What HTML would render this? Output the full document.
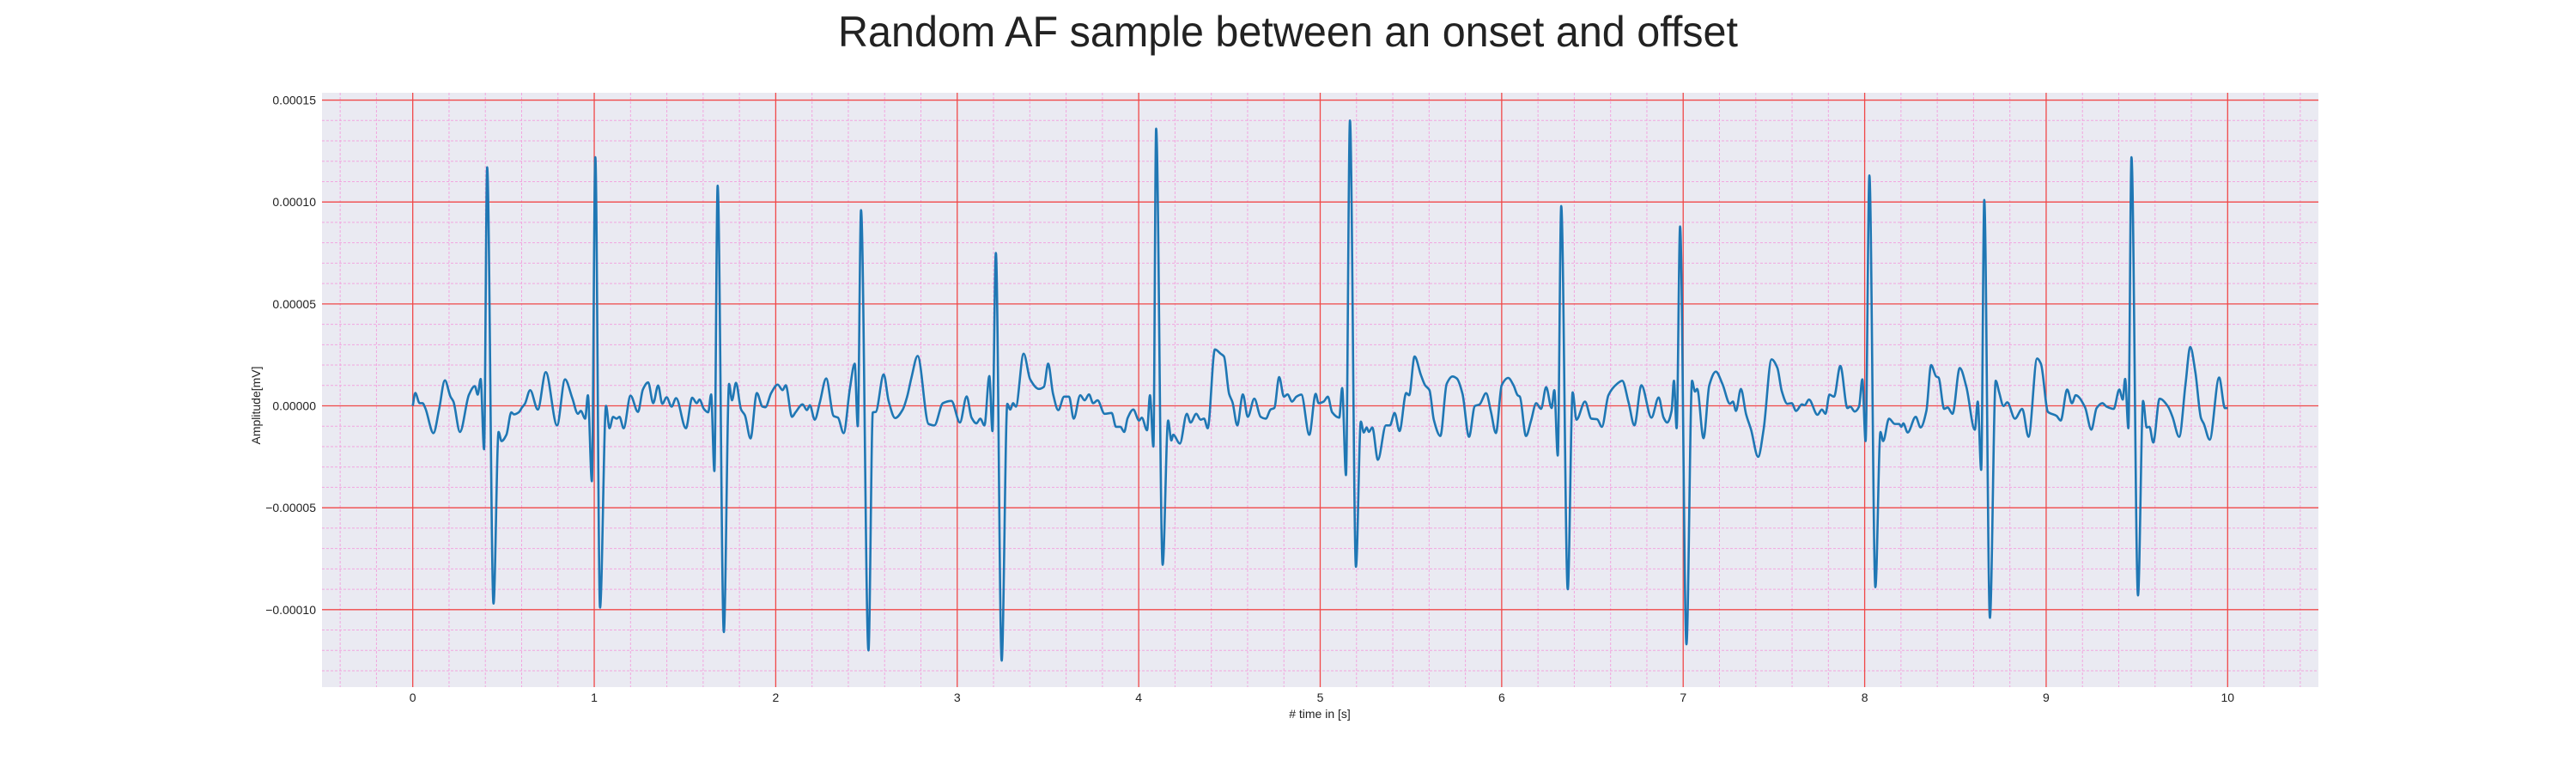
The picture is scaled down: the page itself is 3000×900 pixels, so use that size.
<!DOCTYPE html>
<html><head><meta charset="utf-8"><style>
html,body{margin:0;padding:0;background:#fff;}
svg{display:block;font-family:"Liberation Sans",Arial,sans-serif;}
</style></head><body>
<svg id="chart" width="3000" height="900" viewBox="0 0 3000 900" xmlns="http://www.w3.org/2000/svg">
<rect x="0" y="0" width="3000" height="900" fill="#ffffff"/>
<text x="1500" y="54" font-size="50" text-anchor="middle" fill="#222" textLength="1048" lengthAdjust="spacingAndGlyphs">Random AF sample between an onset and offset</text>
<rect x="375" y="108" width="2325" height="692" fill="#eaeaf2"/>
<g id="grid"></g>
<g id="ticks"></g>
<g id="series"></g>
<text x="1537" y="836" font-size="14" text-anchor="middle" fill="#222"># time in [s]</text>
<text x="0" y="0" font-size="14" text-anchor="middle" fill="#222" transform="translate(303,472) rotate(-90)">Amplitude[mV]</text>
</svg>
<script>
const xTicks = [0,1,2,3,4,5,6,7,8,9,10];
const xTickLabels = ["0","1","2","3","4","5","6","7","8","9","10"];
const yTicks = [-0.0001,-0.00005,0,0.00005,0.0001,0.00015];
const yTickLabels = ["\u22120.00010","\u22120.00005","0.00000","0.00005","0.00010","0.00015"];
// time in seconds
const times = [0,0.014,0.038,0.054,0.069,0.114,0.145,0.177,0.208,0.224,0.26,0.31,0.342,0.358,0.374,0.393,0.41,0.445,0.473,0.489,0.516,0.543,0.558,0.584,0.603,0.618,0.647,0.689,0.733,0.795,0.839,0.879,0.91,0.926,0.95,0.965,0.987,1.006,1.032,1.065,1.084,1.104,1.123,1.139,1.162,1.2,1.241,1.268,1.297,1.325,1.352,1.375,1.399,1.426,1.451,1.505,1.54,1.565,1.58,1.604,1.628,1.644,1.662,1.68,1.714,1.743,1.759,1.781,1.809,1.83,1.861,1.896,1.927,1.943,1.975,2.011,2.038,2.055,2.09,2.109,2.148,2.172,2.188,2.215,2.243,2.278,2.319,2.343,2.374,2.409,2.435,2.452,2.47,2.511,2.535,2.551,2.595,2.622,2.658,2.7,2.724,2.748,2.782,2.842,2.874,2.921,2.968,3.015,3.052,3.079,3.106,3.127,3.15,3.177,3.194,3.213,3.245,3.276,3.292,3.308,3.323,3.366,3.402,3.45,3.478,3.501,3.528,3.557,3.589,3.616,3.642,3.678,3.702,3.726,3.749,3.773,3.812,3.851,3.875,3.899,3.92,3.939,3.97,4.002,4.017,4.046,4.062,4.081,4.096,4.132,4.162,4.18,4.19,4.227,4.265,4.286,4.317,4.341,4.36,4.38,4.42,4.451,4.47,4.498,4.517,4.543,4.574,4.601,4.637,4.672,4.7,4.727,4.747,4.774,4.8,4.82,4.845,4.869,4.896,4.94,4.975,4.991,5.019,5.042,5.066,5.105,5.121,5.142,5.164,5.197,5.224,5.24,5.256,5.268,5.287,5.318,5.362,5.384,5.41,5.437,5.474,5.49,5.52,5.555,5.578,5.602,5.626,5.662,5.697,5.729,5.753,5.784,5.82,5.852,5.878,5.914,5.941,5.968,6.0,6.036,6.065,6.088,6.1,6.134,6.162,6.19,6.217,6.245,6.275,6.29,6.309,6.328,6.364,6.391,6.412,6.459,6.494,6.526,6.552,6.588,6.636,6.664,6.699,6.731,6.77,6.825,6.865,6.892,6.912,6.936,6.949,6.964,6.983,7.018,7.049,7.065,7.077,7.112,7.144,7.18,7.216,7.258,7.274,7.291,7.318,7.346,7.374,7.413,7.443,7.487,7.519,7.543,7.574,7.598,7.622,7.654,7.669,7.693,7.74,7.764,7.784,7.806,7.831,7.866,7.905,7.921,7.945,7.969,7.987,8.005,8.026,8.059,8.087,8.102,8.134,8.166,8.19,8.202,8.213,8.237,8.281,8.308,8.34,8.366,8.394,8.407,8.438,8.457,8.484,8.524,8.56,8.607,8.623,8.642,8.659,8.69,8.722,8.741,8.765,8.786,8.828,8.868,8.903,8.95,8.971,9.01,9.057,9.08,9.116,9.142,9.163,9.214,9.249,9.278,9.31,9.333,9.372,9.403,9.422,9.435,9.453,9.47,9.506,9.534,9.554,9.569,9.59,9.625,9.672,9.696,9.733,9.768,9.794,9.822,9.853,9.869,9.901,9.953,9.985,10.0];
// amplitude in units of 1e-5 mV
const amps = [0,0.63,0.13,0.13,-0.11,-1.34,-0.18,1.25,0.45,0.21,-1.28,0.55,0.97,0.55,1.32,-2.13,11.7,-9.7,-1.28,-1.73,-1.42,-0.32,-0.42,-0.32,-0.07,0.1,0.77,-0.18,1.65,-0.96,1.3,0.38,-0.39,-0.25,-0.63,0.52,-3.7,12.2,-9.9,0,-1.1,-0.54,-0.63,-0.54,-1.1,0.5,-0.3,0.8,1.15,0.13,1.0,0.1,0.42,-0.04,0.38,-1.1,0.4,0.13,0.31,-0.15,-0.32,0.56,-3.2,10.8,-11.1,1.08,0.27,1.13,-0.18,-0.46,-1.6,0.63,-0.04,-0.07,0.63,1.04,0.77,1.01,-0.54,-0.32,0.07,-0.21,0.03,-0.68,0.17,1.34,-0.5,-0.58,-1.34,0.87,2.07,-1.0,9.6,-12,-0.32,-0.3,1.54,0.24,-0.6,-0.18,0.45,1.39,2.45,-0.89,-0.96,0.13,0.24,-0.82,0.46,-0.58,-0.86,-0.63,-0.96,1.46,-1.24,7.5,-12.5,0.1,-0.18,0.13,-0.04,2.56,1.3,0.83,0.94,2.07,0.59,-0.21,0.45,0.45,-0.63,0.52,0.27,0.56,0.13,0.27,-0.39,-0.35,-1.03,-1.03,-1.28,-0.6,-0.18,-0.72,-0.58,-1.2,0.52,-2.0,13.6,-7.8,-0.72,-1.7,-1.42,-1.85,-0.39,-0.82,-0.39,-0.68,-0.63,-1.1,2.77,2.56,2.42,0.59,0.17,-0.96,0.56,-0.54,0.35,-0.54,-0.63,-0.18,-0.11,1.41,0.45,0.56,0.21,0.45,0.55,-1.42,0.59,0.13,0.21,0.45,-0.32,-0.58,0.87,-3.4,14.0,-7.9,-0.77,-1.31,-1.06,-1.28,-1.06,-2.65,-0.96,-0.96,-0.35,-1.24,0.63,0.52,2.42,1.51,1.01,0.77,-0.68,-1.48,1.08,1.44,1.34,0.59,-1.52,-0.01,0.07,0.62,-0.3,-1.34,1.01,1.37,1.01,0.52,0.45,-1.48,-0.72,0.13,-0.15,0.92,-0.11,0.77,-2.44,9.8,-9.0,0.66,-0.68,0.21,-0.63,-0.66,-1.03,0.52,1.08,1.23,0.17,-0.96,1.01,-0.58,0.41,-0.58,-0.82,-0.25,1.23,-1.1,8.8,-11.7,1.23,0.7,0.83,-1.59,1.01,1.68,1.08,0.1,0.21,-0.25,0.83,-0.39,-1.17,-2.5,-1.17,2.28,1.86,0.73,0.1,0.13,-0.25,0.07,0.03,0.31,-0.44,-0.18,-0.39,0.55,0.45,1.96,-0.11,-0.04,-0.28,-0.04,1.3,-1.73,11.3,-8.9,-1.28,-1.73,-0.63,-0.89,-0.89,-1.03,-0.86,-1.31,-0.54,-1.06,-0.25,2.0,1.44,1.39,-0.15,-0.08,-0.39,1.86,0.94,-1.17,0.21,-3.14,10.1,-10.4,1.23,0.66,-0.01,0.17,-0.63,-0.15,-1.52,2.32,2.07,-0.3,-0.49,-0.72,0.8,0.13,0.52,-0.07,-1.17,-0.11,0.13,-0.04,-0.15,0.8,0.31,1.32,-1.1,12.2,-9.3,0.24,-1.06,-1.03,-1.8,0.35,-0.04,-0.54,-1.52,1.08,2.89,1.65,-0.6,-0.89,-1.66,1.39,-0.11,-0.11];

const NS = "http://www.w3.org/2000/svg";
const X0 = 375, X1 = 2700, Y0 = 108, Y1 = 800;
const xMin = -0.5, xMax = 10.5, yMin = -0.000138, yMax = 0.0001536;
function xScale(v){ return X0 + (v - xMin) / (xMax - xMin) * (X1 - X0); }
function yScale(v){ return Y1 - (v - yMin) / (yMax - yMin) * (Y1 - Y0); }
function mk(tag, attrs, parent){
  const e = document.createElementNS(NS, tag);
  for (const k in attrs) e.setAttribute(k, attrs[k]);
  parent.appendChild(e);
  return e;
}
const grid = document.getElementById('grid');
const ticks = document.getElementById('ticks');
const series = document.getElementById('series');

// minor grid
for (let i = -2; i <= 52; i++) {
  const v = i * 0.2;
  if (i % 5 === 0) continue;
  const x = xScale(v);
  const l = mk('line', {x1:x, x2:x, y1:Y0, y2:Y1, stroke:'#f2a6df', 'stroke-width':1, 'stroke-dasharray':'3,2'}, grid);
  
  
}
for (let i = -13; i <= 15; i++) {
  if (i % 5 === 0) continue;
  const y = yScale(i * 0.00001);
  const l = mk('line', {x1:X0, x2:X1, y1:y, y2:y, stroke:'#f2a6df', 'stroke-width':1, 'stroke-dasharray':'3,2'}, grid);
  
  
}
// major grid + tick labels
xTicks.forEach((t, i) => {
  const x = xScale(t);
  const l = mk('line', {x1:x, x2:x, y1:Y0, y2:Y1, stroke:'#f04848', 'stroke-width':1.3}, grid);
  
  
  const tx = mk('text', {x:x, y:817, 'font-size':14, 'text-anchor':'middle', fill:'#222'}, ticks);
  tx.textContent = xTickLabels[i];
  
  
});
yTicks.forEach((t, i) => {
  const y = yScale(t);
  const l = mk('line', {x1:X0, x2:X1, y1:y, y2:y, stroke:'#f04848', 'stroke-width':1.3}, grid);
  
  
  const tx = mk('text', {x:368, y:y + 5, 'font-size':14, 'text-anchor':'end', fill:'#222'}, ticks);
  tx.textContent = yTickLabels[i];
  
  
});

// monotone cubic path
const px = times.map(xScale);
const py = amps.map(a => yScale(a * 1e-5));
const n = px.length;
const sl = [], m = new Array(n).fill(0);
for (let i = 0; i < n - 1; i++) sl.push((py[i+1] - py[i]) / (px[i+1] - px[i]));
m[0] = sl[0]; m[n-1] = sl[n-2];
for (let i = 1; i < n - 1; i++) {
  if (sl[i-1] * sl[i] <= 0) m[i] = 0;
  else {
    const h0 = px[i] - px[i-1], h1 = px[i+1] - px[i];
    m[i] = 3 * (h0 + h1) / ((2*h1 + h0) / sl[i-1] + (h1 + 2*h0) / sl[i]);
  }
}
let d = 'M' + px[0].toFixed(2) + ',' + py[0].toFixed(2);
for (let i = 0; i < n - 1; i++) {
  const h = (px[i+1] - px[i]) / 3;
  d += 'C' + (px[i] + h).toFixed(2) + ',' + (py[i] + m[i]*h).toFixed(2) + ' ' +
       (px[i+1] - h).toFixed(2) + ',' + (py[i+1] - m[i+1]*h).toFixed(2) + ' ' +
       px[i+1].toFixed(2) + ',' + py[i+1].toFixed(2);
}
const path = mk('path', {d:d, fill:'none', stroke:'#1f77b4', 'stroke-width':2.6, 'stroke-linejoin':'round'}, series);


</script>
</body></html>
